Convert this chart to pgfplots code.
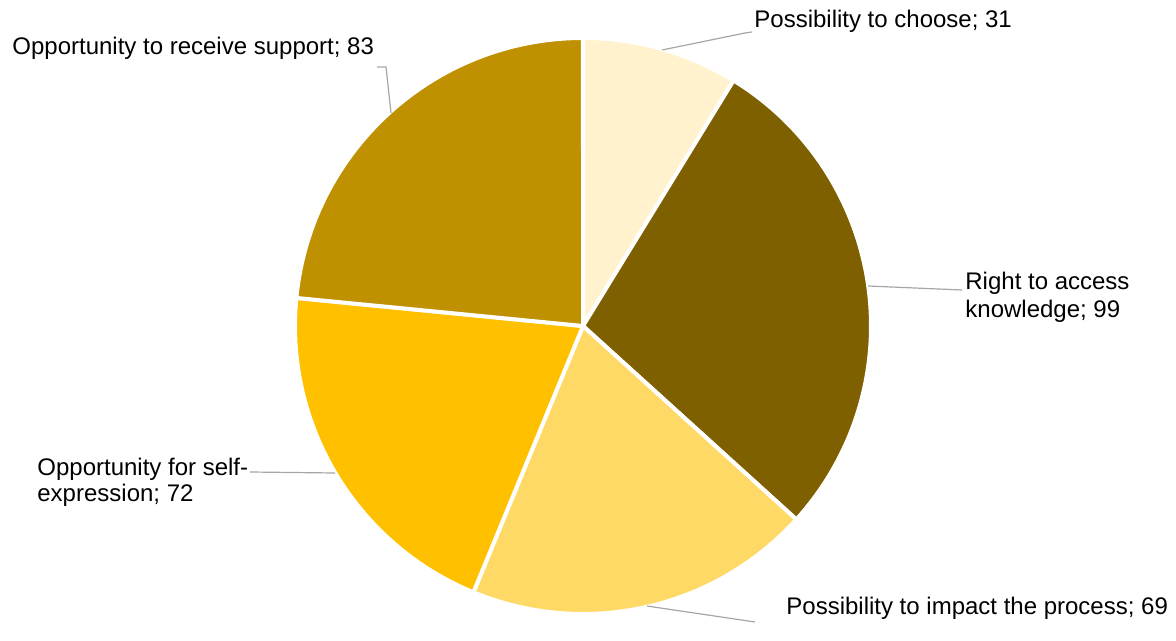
\documentclass[border=0pt]{standalone}
\usepackage{pgfplots}
\usepackage{pgfplotstable}
\pgfplotsset{compat=1.18}
\usepackage{fontspec}
\setmainfont{Liberation Sans}

\definecolor{pie0}{HTML}{FFF2CC}
\definecolor{pie1}{HTML}{7F6000}
\definecolor{pie2}{HTML}{FFD966}
\definecolor{pie3}{HTML}{FFC000}
\definecolor{pie4}{HTML}{BF9000}
\definecolor{leader}{HTML}{A6A6A6}

\tikzset{lbl/.style={anchor=base west, inner sep=0pt, font=\fontsize{12}{13.5}\selectfont}}

% slices clockwise from 12 o'clock
\pgfplotstableread{
value
31
99
69
72
83
}\piedata

\begin{document}
\begin{tikzpicture}
\begin{axis}[
  width=588pt, height=311pt, scale only axis,
  xmin=0, xmax=1176, ymin=0, ymax=622, y dir=reverse,
  hide axis, clip=false,
]
\path (axis cs:0,0) rectangle (axis cs:1176,622);

% total
\def\total{0}
\pgfplotsforeachungrouped \i in {0,1,2,3,4}{
  \pgfplotstablegetelem{\i}{value}\of\piedata
  \pgfmathsetmacro{\total}{\total+\pgfplotsretval}
}
\pgfmathsetmacro{\degper}{360/\total}
% wedges
\def\cum{0}
\pgfplotsforeachungrouped \i in {0,1,2,3,4}{
  \pgfplotstablegetelem{\i}{value}\of\piedata
  \let\v\pgfplotsretval
  \pgfmathsetmacro{\a}{90-\degper*\cum}
  \pgfmathsetmacro{\b}{90-\degper*(\cum+\v)}
  \edef\temp{\noexpand\filldraw[fill=pie\i, draw=white, line width=2pt, line join=round]
    (axis cs:583,326) -- ++(\a:144pt) arc[start angle=\a, end angle=\b, radius=144pt] -- cycle;}
  \temp
  \pgfmathsetmacro{\cum}{\cum+\v}
}

% leader lines
\draw[leader, line width=0.6pt] (axis cs:662,50) -- (axis cs:745,33) -- (axis cs:752,32);
\draw[leader, line width=0.6pt] (axis cs:868,286) -- (axis cs:962,290);
\draw[leader, line width=0.6pt] (axis cs:377,67) -- (axis cs:386,67) -- (axis cs:391,113);
\draw[leader, line width=0.6pt] (axis cs:250,472) -- (axis cs:335,473);
\draw[leader, line width=0.6pt] (axis cs:647,606) -- (axis cs:755,622);

% labels
\node[lbl] at (axis cs:754,28) {Possibility to choose; 31};
\node[lbl] at (axis cs:965,290) {Right to access};
\node[lbl] at (axis cs:965,318) {knowledge; 99};
\node[lbl] at (axis cs:786,614) {Possibility to impact the process; 69};
\node[lbl] at (axis cs:37,475) {Opportunity for self-};
\node[lbl] at (axis cs:37,501) {expression; 72};
\node[lbl] at (axis cs:12,55) {Opportunity to receive support; 83};
\end{axis}
\end{tikzpicture}
\end{document}
